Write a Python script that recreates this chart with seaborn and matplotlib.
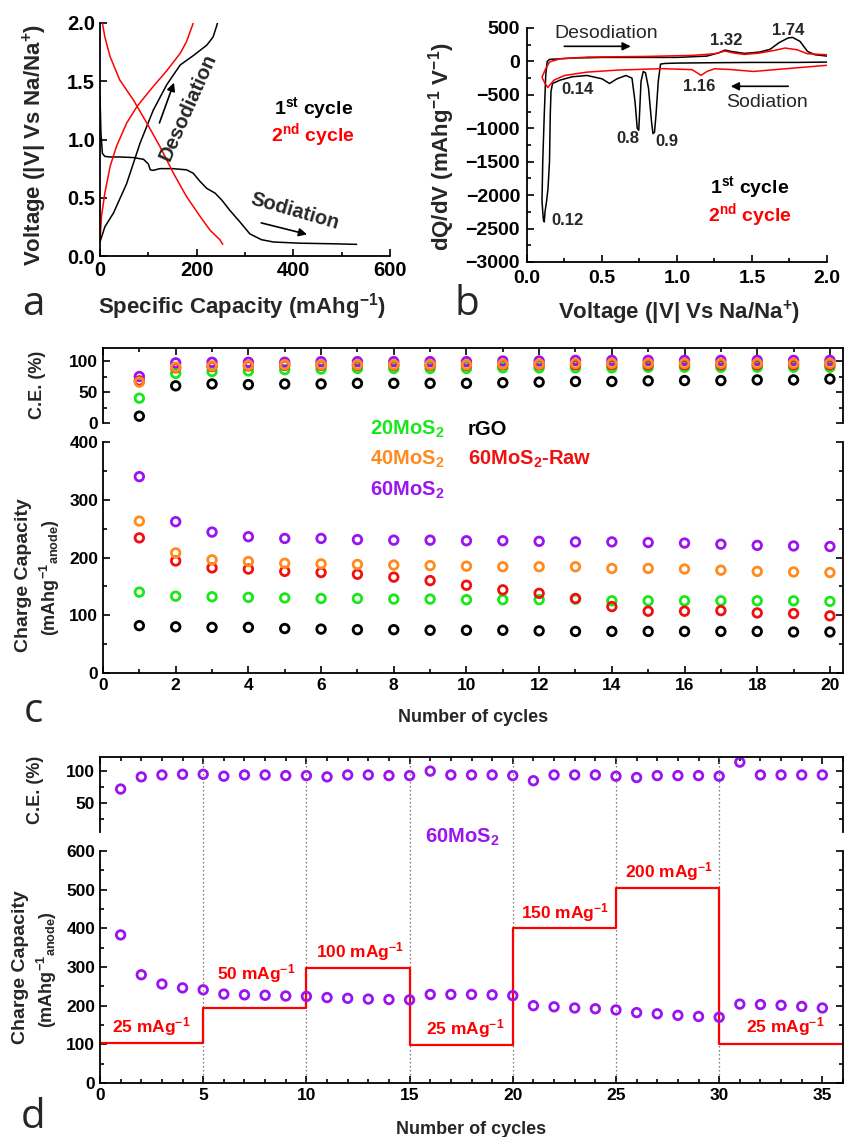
import seaborn as sns
import matplotlib.pyplot as plt
from matplotlib.ticker import MultipleLocator

# ---------------- data ----------------
# (a) galvanostatic profiles, capacity (mAh/g) vs voltage (V)
a1_dis_cap = [0, 2, 5, 10, 20, 40, 69, 90, 100, 104, 110, 124, 150, 179, 193, 207, 221, 238, 252, 269, 290, 310, 334, 359, 414, 480, 531]
a1_dis_v = [1.37, 1.05, 0.88, 0.855, 0.85, 0.85, 0.845, 0.83, 0.79, 0.74, 0.735, 0.75, 0.75, 0.74, 0.71, 0.64, 0.58, 0.54, 0.48, 0.39, 0.29, 0.19, 0.14, 0.12, 0.11, 0.105, 0.10]
a1_chg_cap = [0, 10, 28, 55, 83, 110, 138, 166, 193, 221, 234, 241, 243]
a1_chg_v = [0.12, 0.25, 0.37, 0.62, 0.97, 1.25, 1.47, 1.64, 1.72, 1.81, 1.88, 1.97, 2.0]
a2_dis_cap = [5, 10, 21, 41, 69, 97, 124, 152, 179, 207, 228, 248, 254]
a2_dis_v = [2.0, 1.88, 1.71, 1.51, 1.34, 1.14, 0.94, 0.71, 0.51, 0.34, 0.22, 0.14, 0.10]
a2_chg_cap = [0, 3, 10, 21, 34, 55, 76, 103, 138, 166, 179, 193]
a2_chg_v = [0.12, 0.34, 0.54, 0.77, 0.94, 1.14, 1.28, 1.42, 1.59, 1.74, 1.84, 2.0]

# (b) differential capacity, voltage (V) vs dQ/dV
b1_v = [2.0, 1.8, 1.5, 1.2, 1.0, 0.92, 0.89, 0.875, 0.86, 0.85, 0.84, 0.83, 0.81, 0.79, 0.775, 0.76, 0.75, 0.745, 0.735, 0.72, 0.70, 0.66, 0.60, 0.55, 0.50, 0.40, 0.30, 0.22, 0.17, 0.16, 0.155, 0.15, 0.14, 0.13, 0.12, 0.115, 0.11, 0.105, 0.10,
        0.105, 0.115, 0.125, 0.135, 0.15, 0.3, 0.5, 0.8, 1.0, 1.2, 1.28, 1.32, 1.36, 1.45, 1.55, 1.62, 1.68, 1.74, 1.77, 1.82, 1.87, 1.92, 2.0]
b1_dq = [-10, -15, -15, -20, -25, -30, -40, -300, -800, -1060, -1080, -900, -400, -170, -150, -300, -800, -1030, -1000, -600, -250, -210, -260, -330, -260, -210, -230, -280, -330, -450, -800, -1500, -1900, -2100, -2250, -2400, -2380, -2250, -2080,
         -1500, -800, -200, 0, 30, 50, 60, 60, 60, 80, 130, 170, 150, 120, 140, 180, 280, 350, 360, 300, 150, 100, 80]
b2_v = [2.0, 1.73, 1.51, 1.35, 1.25, 1.2, 1.16, 1.12, 1.1, 0.9, 0.6, 0.4, 0.25, 0.18, 0.15, 0.14, 0.12, 0.105, 0.10,
        0.105, 0.12, 0.15, 0.22, 0.4, 0.8, 1.1, 1.25, 1.32, 1.38, 1.45, 1.55, 1.65, 1.72, 1.8, 1.87, 2.0]
b2_dq = [-58, -108, -150, -120, -110, -150, -208, -150, -123, -108, -130, -160, -210, -280, -357, -390, -330, -260, -230,
         -210, -130, -8, 40, 65, 75, 90, 115, 155, 125, 105, 125, 165, 200, 175, 115, 100]

# (c) cycling of the composites
cycles_c = list(range(1, 21))
ce_20 = [40, 80, 83, 84, 86, 87, 88, 88, 88, 88, 89, 89, 89, 89, 90, 90, 90, 90, 90, 90]
ce_40 = [66, 90, 92, 93, 94, 94, 94, 94, 94, 94, 95, 95, 96, 96, 96, 96, 96, 96, 96, 96]
ce_60 = [75, 97, 98, 98, 98, 99, 99, 99, 99, 99, 100, 100, 101, 101, 101, 101, 101, 101, 101, 101]
ce_raw = [68, 89, 91, 92, 93, 93, 93, 93, 93, 93, 94, 94, 94, 94, 94, 94, 94, 94, 94, 94]
ce_rgo = [11, 60, 63, 62, 63, 63, 64, 64, 64, 64, 65, 66, 67, 67, 68, 68.5, 68.5, 69.5, 69.5, 71]
cap_20 = [140, 133, 132, 131, 130, 129, 129, 128, 128, 127, 127, 127, 128, 125, 125, 125, 125, 125, 125, 124]
cap_40 = [263, 208, 196, 193, 190, 189, 188, 187, 186, 185, 184, 184, 184, 181, 181, 180, 178, 176, 175, 174]
cap_60 = [340, 262, 244, 236, 233, 233, 231, 230, 230, 229, 229, 228, 227, 227, 226, 225, 223, 221, 220, 219]
cap_raw = [234, 194, 182, 180, 176, 174, 171, 166, 160, 152, 144, 138, 129, 115, 107, 107, 108, 104, 103, 99]
cap_rgo = [82, 80, 79, 79, 77, 76, 75, 75, 74, 74, 74, 73, 72, 72, 72, 72, 72, 72, 71, 71]

# (d) rate capability of 60MoS2
cycles_d = list(range(1, 36))
ce_d = [72, 91, 94, 95, 95, 92, 94, 94, 93, 93, 91, 94, 94, 93, 93, 100, 94, 94, 94, 93,
        85, 94, 94, 94, 92, 90, 93, 93, 93, 92, 114, 94, 94, 94, 94]
cap_d = [383, 280, 256, 246, 241, 230, 228, 227, 225, 224, 221, 219, 217, 216, 215, 229, 229, 229, 228, 226,
         200, 197, 194, 192, 189, 182, 179, 175, 172, 170, 204, 203, 201, 198, 194]
rate_edges = [0, 5, 10, 15, 20, 25, 30, 36]
rate_level = [103, 193, 297, 98, 402, 505, 101, 101]
rate_names = ['25', '50', '100', '25', '150', '200', '25']

# ---------------- style ----------------
sns.set_style('ticks')
plt.rcParams['font.family'] = ['Liberation Sans', 'DejaVu Sans']
plt.rcParams['font.weight'] = 'bold'
plt.rcParams['mathtext.fontset'] = 'custom'
plt.rcParams['mathtext.rm'] = 'Liberation Sans:bold'
plt.rcParams['mathtext.it'] = 'Liberation Sans:bold'
plt.rcParams['mathtext.bf'] = 'Liberation Sans:bold'
plt.rcParams['axes.linewidth'] = 1.3
plt.rcParams['axes.edgecolor'] = 'black'
plt.rcParams['xtick.color'] = 'black'
plt.rcParams['ytick.color'] = 'black'

GREEN, ORANGE, RED, PURPLE = '#18e818', '#ff8a1e', '#f01010', '#9b14f0'
W, H = 845, 1137


def box(l, r, t, b):
    return [l / W, 1 - b / H, (r - l) / W, (b - t) / H]


def fig_text(x, y, s, **kw):
    fig.text(x / W, 1 - y / H, s, **kw)


def ticks_in(ax, size):
    ax.tick_params(which='both', direction='in', width=1.2, labelsize=size)
    ax.tick_params(which='major', length=5)
    ax.tick_params(which='minor', length=3)


fig = plt.figure(figsize=(W / 100, H / 100), dpi=100)

# ---------------- (a) ----------------
ax = fig.add_axes(box(100, 390, 23, 256))
sns.lineplot(x=a1_dis_cap, y=a1_dis_v, sort=False, estimator=None, color='black', lw=1.1, ax=ax)
sns.lineplot(x=a1_chg_cap, y=a1_chg_v, sort=False, estimator=None, color='black', lw=1.1, ax=ax)
sns.lineplot(x=a2_dis_cap, y=a2_dis_v, sort=False, estimator=None, color='red', lw=1.1, ax=ax)
sns.lineplot(x=a2_chg_cap, y=a2_chg_v, sort=False, estimator=None, color='red', lw=1.1, ax=ax)
ax.set(xlim=(0, 600), ylim=(0, 2), xlabel='', ylabel='')
sns.despine(ax=ax)
ax.xaxis.set_major_locator(MultipleLocator(200))
ax.xaxis.set_minor_locator(MultipleLocator(100))
ax.yaxis.set_major_locator(MultipleLocator(0.5))
ticks_in(ax, 14.5)
ax.annotate('', xy=(155, 1.51), xytext=(121, 1.12),
            arrowprops=dict(arrowstyle='-|>', color='black', lw=1.2, mutation_scale=12))
ax.text(183, 1.28, 'Desodiation', rotation=66, ha='center', va='center', fontsize=14.5)
ax.annotate('', xy=(434, 0.18), xytext=(328, 0.29),
            arrowprops=dict(arrowstyle='-|>', color='black', lw=1.2, mutation_scale=12))
ax.text(403, 0.38, 'Sodiation', rotation=-16, ha='center', va='center', fontsize=14.5)
ax.text(359, 1.27, '1$^{st}$ cycle', ha='left', va='center', fontsize=14, color='black')
ax.text(353, 1.04, '2$^{nd}$ cycle', ha='left', va='center', fontsize=14, color='red')
fig_text(35, 145, 'Voltage (|V| Vs Na/Na$^{+}$)', rotation=90, ha='center', va='center', fontsize=16)
fig_text(242, 307, 'Specific Capacity (mAhg$^{-1}$)', ha='center', va='center', fontsize=16)
fig_text(33, 315, 'a', ha='center', va='baseline', fontsize=29, fontweight='normal', family='Open Sans')

# ---------------- (b) ----------------
ax = fig.add_axes(box(527, 827, 28, 262))
sns.lineplot(x=b1_v, y=b1_dq, sort=False, estimator=None, color='black', lw=1.1, ax=ax)
sns.lineplot(x=b2_v, y=b2_dq, sort=False, estimator=None, color='red', lw=1.1, ax=ax)
ax.set(xlim=(0, 2), ylim=(-3000, 500), xlabel='', ylabel='')
sns.despine(ax=ax)
ax.xaxis.set_major_locator(MultipleLocator(0.5))
ax.xaxis.set_minor_locator(MultipleLocator(0.25))
ax.yaxis.set_major_locator(MultipleLocator(500))
ax.yaxis.set_minor_locator(MultipleLocator(250))
ticks_in(ax, 14)
ax.tick_params(axis='x', pad=6)
ax.tick_params(axis='y', pad=5)
ax.annotate('', xy=(0.71, 226), xytext=(0.23, 226),
            arrowprops=dict(arrowstyle='-|>', color='black', lw=1.2, mutation_scale=12))
ax.text(0.53, 415, 'Desodiation', ha='center', va='center', fontsize=14, fontweight='normal')
ax.annotate('', xy=(1.34, -372), xytext=(1.76, -372),
            arrowprops=dict(arrowstyle='-|>', color='black', lw=1.2, mutation_scale=12))
ax.text(1.6, -607, 'Sodiation', ha='center', va='center', fontsize=14, fontweight='normal')
peak_v = [1.74, 1.32, 0.14, 0.8, 0.9, 1.16, 0.12]
peak_xy = [(1.74, 465), (1.33, 316), (0.34, -422), (0.67, -1155), (0.93, -1205), (1.15, -382), (0.27, -2376)]
for v, (px, py) in zip(peak_v, peak_xy):
    ax.text(px, py, f'{v:g}', ha='center', va='center', fontsize=12)
ax.text(1.22, -1878, '1$^{st}$ cycle', ha='left', va='center', fontsize=14, color='black')
ax.text(1.21, -2302, '2$^{nd}$ cycle', ha='left', va='center', fontsize=14, color='red')
fig_text(442, 147, 'dQ/dV (mAhg$^{-1}$ V$^{-1}$)', rotation=90, ha='center', va='center', fontsize=16)
fig_text(679, 313, 'Voltage (|V| Vs Na/Na$^{+}$)', ha='center', va='center', fontsize=16)
fig_text(467, 315, 'b', ha='center', va='baseline', fontsize=29, fontweight='normal', family='Open Sans')

# ---------------- (c) ----------------
series_c = [('rGO', ce_rgo, cap_rgo, 'black'), ('20MoS2', ce_20, cap_20, GREEN),
            ('60MoS2-Raw', ce_raw, cap_raw, RED), ('60MoS2', ce_60, cap_60, PURPLE),
            ('40MoS2', ce_40, cap_40, ORANGE)]
ax_ce = fig.add_axes(box(103, 843, 348, 423))
ax_cap = fig.add_axes(box(103, 843, 442, 673), sharex=ax_ce)
for name, ce, cap, col in series_c:
    sns.scatterplot(x=cycles_c, y=ce, ax=ax_ce, s=38, facecolor='none', edgecolor=col, linewidth=2, clip_on=False)
    sns.scatterplot(x=cycles_c, y=cap, ax=ax_cap, s=38, facecolor='none', edgecolor=col, linewidth=2, clip_on=False)
ax_ce.set(ylim=(0, 121), xlim=(0, 20.36), xlabel='', ylabel='')
ax_ce.spines['bottom'].set_visible(False)
ax_ce.yaxis.set_major_locator(MultipleLocator(50))
ax_ce.yaxis.set_minor_locator(MultipleLocator(25))
ticks_in(ax_ce, 12.5)
ax_ce.tick_params(bottom=False, labelbottom=False, top=True, right=True, which='both')
ax_cap.set(ylim=(0, 400), xlabel='', ylabel='')
ax_cap.spines['top'].set_visible(False)
ax_cap.xaxis.set_major_locator(MultipleLocator(2))
ax_cap.xaxis.set_minor_locator(MultipleLocator(1))
ax_cap.yaxis.set_major_locator(MultipleLocator(100))
ax_cap.yaxis.set_minor_locator(MultipleLocator(50))
ticks_in(ax_cap, 12.5)
ax_cap.tick_params(right=True, which='both')
fig_text(370, 435, '20MoS$_2$', color=GREEN, fontsize=14.5, va='baseline')
fig_text(468, 435, 'rGO', color='black', fontsize=14.5, va='baseline')
fig_text(370, 465, '40MoS$_2$', color=ORANGE, fontsize=14.5, va='baseline')
fig_text(468, 465, '60MoS$_2$-Raw', color=RED, fontsize=14.5, va='baseline')
fig_text(370, 496, '60MoS$_2$', color=PURPLE, fontsize=14.5, va='baseline')
fig_text(38, 385, 'C.E. (%)', rotation=90, ha='center', va='center', fontsize=13)
fig_text(24, 575, 'Charge Capacity', rotation=90, ha='center', va='center', fontsize=14)
fig_text(50, 578, '(mAhg$^{-1}$$_{\\mathrm{anode}}$)', rotation=90, ha='center', va='center', fontsize=13)
fig_text(473, 717, 'Number of cycles', ha='center', va='center', fontsize=13)
fig_text(33, 722, 'c', ha='center', va='baseline', fontsize=29, fontweight='normal', family='Open Sans')

# ---------------- (d) ----------------
ax_ce = fig.add_axes(box(100, 843, 757, 832))
ax_cap = fig.add_axes(box(100, 843, 851, 1083), sharex=ax_ce)
sns.scatterplot(x=cycles_d, y=ce_d, ax=ax_ce, s=38, facecolor='none', edgecolor=PURPLE, linewidth=2, clip_on=False)
sns.scatterplot(x=cycles_d, y=cap_d, ax=ax_cap, s=38, facecolor='none', edgecolor=PURPLE, linewidth=2, clip_on=False, zorder=4)
sns.lineplot(x=rate_edges, y=rate_level, drawstyle='steps-post', color='red', lw=1.6, ax=ax_cap)
span = (1083 - 757) / (1083 - 851)
for x in rate_edges[1:-1]:
    ax_cap.axvline(x, ymin=0, ymax=span, color='#777777', ls=(0, (1.2, 2)), lw=0.9, clip_on=False, zorder=0)
ax_ce.set(ylim=(5, 122), xlim=(0, 36), xlabel='', ylabel='')
ax_ce.spines['bottom'].set_visible(False)
ax_ce.yaxis.set_major_locator(MultipleLocator(50))
ax_ce.yaxis.set_minor_locator(MultipleLocator(25))
ticks_in(ax_ce, 12.5)
ax_ce.tick_params(bottom=False, labelbottom=False, top=True, right=True, which='both')
ax_cap.set(ylim=(0, 600), xlabel='', ylabel='')
ax_cap.spines['top'].set_visible(False)
ax_cap.xaxis.set_major_locator(MultipleLocator(5))
ax_cap.xaxis.set_minor_locator(MultipleLocator(1))
ax_cap.yaxis.set_major_locator(MultipleLocator(100))
ax_cap.yaxis.set_minor_locator(MultipleLocator(50))
ticks_in(ax_cap, 12.5)
ax_cap.tick_params(right=True, which='both')
rate_label_xy = [(2.5, 145), (7.55, 282), (12.6, 339), (17.7, 142), (22.55, 442), (27.55, 546), (33.2, 145)]
for name, (tx, ty) in zip(rate_names, rate_label_xy):
    ax_cap.text(tx, ty, name + ' mAg$^{-1}$', color='red', ha='center', va='center', fontsize=12.5)
fig_text(462, 837, '60MoS$_2$', color=PURPLE, ha='center', va='center', fontsize=14.5)
fig_text(35, 790, 'C.E. (%)', rotation=90, ha='center', va='center', fontsize=13)
fig_text(21, 967, 'Charge Capacity', rotation=90, ha='center', va='center', fontsize=14)
fig_text(47, 970, '(mAhg$^{-1}$$_{\\mathrm{anode}}$)', rotation=90, ha='center', va='center', fontsize=13)
fig_text(471, 1129, 'Number of cycles', ha='center', va='center', fontsize=13)
fig_text(33, 1128, 'd', ha='center', va='baseline', fontsize=29, fontweight='normal', family='Open Sans')

fig.savefig('out.png', dpi=100)
